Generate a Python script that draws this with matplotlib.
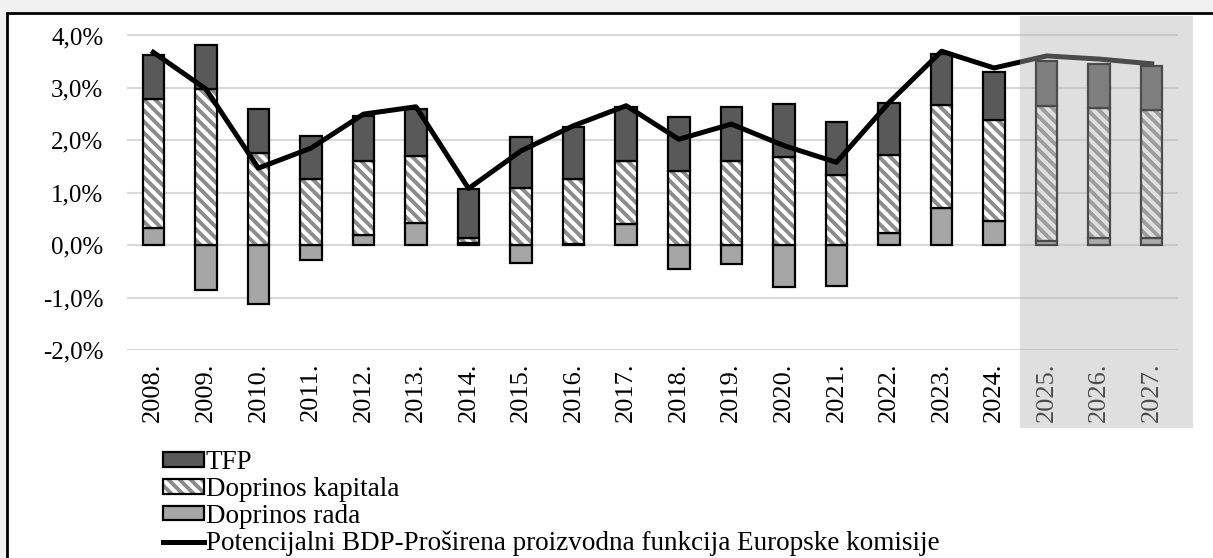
import numpy as np
import matplotlib
matplotlib.use("Agg")
import matplotlib.pyplot as plt
from matplotlib.patches import Rectangle, Patch
from matplotlib.lines import Line2D

godine = ["2008.", "2009.", "2010.", "2011.", "2012.", "2013.", "2014.", "2015.", "2016.", "2017.",
          "2018.", "2019.", "2020.", "2021.", "2022.", "2023.", "2024.", "2025.", "2026.", "2027."]

# doprinosi u postotnim bodovima
rad = [0.33, -0.85, -1.13, -0.29, 0.19, 0.43, 0.05, -0.34, 0.03, 0.41,
       -0.46, -0.35, -0.80, -0.77, 0.24, 0.70, 0.46, 0.08, 0.14, 0.14]
kapital = [2.46, 2.98, 1.75, 1.27, 1.42, 1.27, 0.08, 1.10, 1.23, 1.20,
           1.41, 1.60, 1.69, 1.34, 1.48, 1.98, 1.93, 2.58, 2.47, 2.44]
tfp = [0.83, 0.84, 0.84, 0.81, 0.86, 0.90, 0.95, 0.96, 1.00, 1.02,
       1.04, 1.04, 1.01, 1.01, 1.00, 0.97, 0.91, 0.86, 0.85, 0.83]
potencijalni = [3.68, 2.98, 1.47, 1.85, 2.50, 2.64, 1.08, 1.80, 2.28, 2.66,
                2.02, 2.31, 1.90, 1.58, 2.72, 3.70, 3.38, 3.61, 3.55, 3.46]

plt.rcParams['font.family'] = ['Liberation Serif', 'DejaVu Serif']
plt.rcParams['hatch.linewidth'] = 2.8

fig = plt.figure(figsize=(12.13, 5.58), dpi=100, facecolor='#f0f0f0')
W, H = 1213, 558

# okvir grafikona
fig.patches.append(Rectangle((7 / W, -0.05), 1.05, 1 - 13 / H + 0.05, transform=fig.transFigure,
                             facecolor='white', edgecolor='black', lw=2, zorder=-10))

ax = fig.add_axes([127 / W, (H - 350) / H, (1178 - 127) / W, (350 - 25) / H])
ax.set_facecolor('none')

x = np.arange(len(godine))
rad_a = np.array(rad)
kap_a = np.array(kapital)
tfp_a = np.array(tfp)
dno_kap = np.maximum(rad_a, 0)
dno_tfp = dno_kap + kap_a

w = 0.41
srafura = '\\\\\\'
ax.bar(x, rad_a, w, color='#a6a6a6', edgecolor='black', lw=1.6, zorder=2)
# kapital: siva srafura pa crni rub preko
ax.bar(x, kap_a, w, bottom=dno_kap, color='white', edgecolor='#8c8c8c', lw=0, hatch=srafura, zorder=2)
ax.bar(x, kap_a, w, bottom=dno_kap, color='none', edgecolor='black', lw=1.6, zorder=2)
ax.bar(x, tfp_a, w, bottom=dno_tfp, color='#595959', edgecolor='black', lw=1.6, zorder=2)
ax.plot(x, potencijalni, color='black', lw=3.6, zorder=3)

ax.set_xlim(-0.5, len(godine) - 0.5)
ax.set_ylim(-2, 4.2)
yt = [-2, -1, 0, 1, 2, 3, 4]
ax.set_yticks(yt)
ax.set_yticklabels([f"{v:.1f}%".replace('.', ',') for v in yt], fontsize=18)
ax.set_xticks(x)
ax.set_xticklabels(godine, rotation=90, fontsize=19)
ax.tick_params(axis='both', length=0)
ax.tick_params(axis='y', pad=17)
ax.tick_params(axis='x', pad=9)
ax.yaxis.grid(True, color='#d9d9d9', lw=1.5, zorder=0)
ax.set_axisbelow(True)
for s in ax.spines.values():
    s.set_visible(False)

# projekcija - sivo prekrivanje
fig.patches.append(Rectangle((1020 / W, 1 - 428 / H), (1193 - 1020) / W, (428 - 16) / H,
                             transform=fig.transFigure, facecolor=(181 / 255, 181 / 255, 181 / 255),
                             alpha=0.42, edgecolor='none', zorder=10))

h_tfp = Patch(facecolor='#595959', edgecolor='black', lw=1.6)
h_kap = (Patch(facecolor='white', edgecolor='#8c8c8c', lw=0, hatch=srafura),
         Patch(facecolor='none', edgecolor='black', lw=1.6))
h_rad = Patch(facecolor='#a6a6a6', edgecolor='black', lw=1.6)
h_lin = Line2D([], [], color='black', lw=3.6)
fig.legend([h_tfp, h_kap, h_rad, h_lin],
           ['TFP', 'Doprinos kapitala', 'Doprinos rada',
            'Potencijalni BDP-Proširena proizvodna funkcija Europske komisije'],
           loc='upper left', bbox_to_anchor=(163 / W, 1 - 450 / H), frameon=False,
           fontsize=19.5, handlelength=1.5, handleheight=0.45, handletextpad=0.08,
           labelspacing=0.07, borderaxespad=0, borderpad=0)

fig.savefig('out.png', dpi=100, facecolor=fig.get_facecolor())
